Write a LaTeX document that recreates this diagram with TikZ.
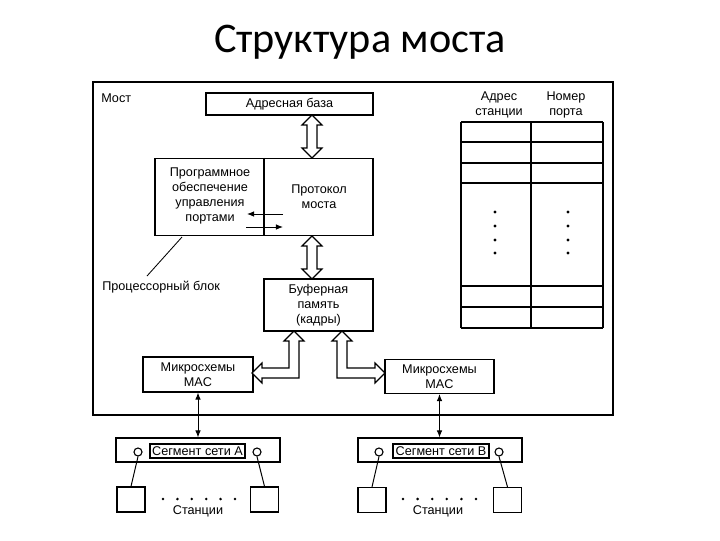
\documentclass[tikz,border=0pt]{standalone}
\usepackage{fontspec}
\setmainfont{Liberation Sans}
\newfontfamily\titlefont{Carlito}
\usetikzlibrary{arrows.meta}

\tikzset{
  blk/.style={draw, rectangle, line width=0.8pt, inner sep=1pt, align=center,
    font=\fontsize{9}{10.5}\selectfont},
  lbl/.style={inner sep=0pt, align=center, font=\fontsize{9}{10.5}\selectfont},
  seglbl/.style={draw, rectangle, line width=1.3pt, inner sep=1.8pt,
    font=\fontsize{9}{10}\selectfont},
  port/.style={draw, circle, fill=white, minimum size=0.2cm, inner sep=0pt, line width=0.8pt},
  hollow/.style={draw, fill=white, line width=0.8pt, line join=miter},
  sig/.style={-{Latex[length=5pt,width=4pt]}, line width=0.7pt},
  dsig/.style={{Latex[length=5pt,width=4pt]}-{Latex[length=5pt,width=4pt]}, line width=0.7pt},
}

\begin{document}
\begin{tikzpicture}[x=0.025cm, y=-0.025cm]
  \useasboundingbox (0,0) rectangle (720,540);

  \node[font=\titlefont\fontsize{30}{36}\selectfont, anchor=base] (title) at (360,52) {Структура моста};

  % bridge frame
  \node[blk, line width=1.3pt, minimum width=13cm, minimum height=8.325cm] (most) at (353,248.5) {};
  \node[lbl, anchor=west] (mostlbl) at (101,98) {Мост};

  \node[blk, minimum width=4.175cm, minimum height=0.55cm] (base) at (289.5,104) {Адресная база};

  % processor block
  \node[blk, minimum width=5.45cm, minimum height=1.925cm] (proc) at (264,197) {};
  \draw[line width=0.8pt] (proc.north) -- (proc.south);
  \node[lbl] (soft) at (210,196) {Программное\\обеспечение\\управления\\портами};
  \node[lbl] (proto) at (319,197) {Протокол\\моста};
  \coordinate (pr1) at (283,214);
  \coordinate (pl1) at (247,214);
  \coordinate (pl2) at (246,227);
  \coordinate (pr2) at (283,227);
  \draw[sig] (pr1) -- (pl1);
  \draw[sig] (pl2) -- (pr2);

  \node[lbl, anchor=west] (cpu) at (102,287) {Процессорный блок};
  \coordinate (lead) at (182,237);
  \coordinate (leadend) at (147,276);
  \draw[line width=0.6pt] (lead) -- (leadend);

  \node[blk, minimum width=2.725cm, minimum height=1.3cm] (buf) at (318.5,305) {Буферная\\память\\(кадры)};
  \node[blk, minimum width=2.75cm, minimum height=0.875cm] (macA) at (198,374.5) {Микросхемы\\MAC};
  \node[blk, minimum width=2.725cm, minimum height=0.85cm] (macB) at (439.5,376.5) {Микросхемы\\MAC};

  % hollow arrows
  \draw[hollow] (312,115) -- (322,125) -- (317,125) -- (317,148) -- (322,148) -- (312,158)
    -- (302,148) -- (307,148) -- (307,125) -- (302,125) -- cycle;
  \draw[hollow] (312,236) -- (322,246) -- (317,246) -- (317,269) -- (322,269) -- (312,279)
    -- (302,269) -- (307,269) -- (307,246) -- (302,246) -- cycle;
  \draw[hollow] (294,331) -- (304,341) -- (299,341) -- (299,378) -- (262,378) -- (262,383)
    -- (252,373) -- (262,363) -- (262,368) -- (289,368) -- (289,341) -- (284,341) -- cycle;
  \draw[hollow] (342,331) -- (352,341) -- (347,341) -- (347,368) -- (375,368) -- (375,363)
    -- (385,373) -- (375,383) -- (375,378) -- (337,378) -- (337,341) -- (332,341) -- cycle;

  % address table
  \node[lbl] (addrh) at (499,105) {Адрес\\станции};
  \node[lbl] (porth) at (566,105) {Номер\\порта};
  \foreach \yy in {122,142,163,183,286,307,328}
    \draw[line width=1pt] (461,\yy) -- (603,\yy);
  \draw[line width=0.9pt] (461,122) -- (461,328) (531,122) -- (531,328) (603,122) -- (603,328);
  \foreach \yy in {212,226,240,253} {
    \fill (495,\yy) circle (1.1pt);
    \fill (568,\yy) circle (1.1pt);
  }

  % segment A
  \node[blk, minimum width=4.1cm, minimum height=0.6cm] (segA) at (198,450) {};
  \node[seglbl] (segAlbl) at (197.5,451) {Сегмент сети А};
  \node[port] (pA1) at (138,452) {};
  \node[port] (pA2) at (257,452) {};
  \node[blk, minimum width=0.7cm, minimum height=0.625cm] (sA1) at (131,499.5) {};
  \node[blk, minimum width=0.7cm, minimum height=0.625cm] (sA2) at (264.5,499.5) {};
  \draw[line width=0.7pt] (pA1.south) -- (sA1.north);
  \draw[line width=0.7pt] (pA2.south) -- (sA2.north);
  \foreach \i in {0,...,5}
    \fill (163+14.4*\i,499) circle (1pt);
  \node[lbl] (stA) at (198,511) {Станции};
  \draw[dsig] (macA.south) -- (segA.north);

  % segment B
  \node[blk, minimum width=4.1cm, minimum height=0.6cm] (segB) at (440,450) {};
  \node[seglbl] (segBlbl) at (441,451) {Сегмент сети В};
  \node[port] (pB1) at (379,452) {};
  \node[port] (pB2) at (499,452) {};
  \node[blk, minimum width=0.7cm, minimum height=0.625cm] (sB1) at (372,500) {};
  \node[blk, minimum width=0.7cm, minimum height=0.625cm] (sB2) at (507.5,500) {};
  \draw[line width=0.7pt] (pB1.south) -- (sB1.north);
  \draw[line width=0.7pt] (pB2.south) -- (sB2.north);
  \foreach \i in {0,...,5}
    \fill (403+14.6*\i,499) circle (1pt);
  \node[lbl] (stB) at (438,511) {Станции};
  \draw[dsig] (macB.south) -- (macB.south |- segB.north);
\end{tikzpicture}
\end{document}
